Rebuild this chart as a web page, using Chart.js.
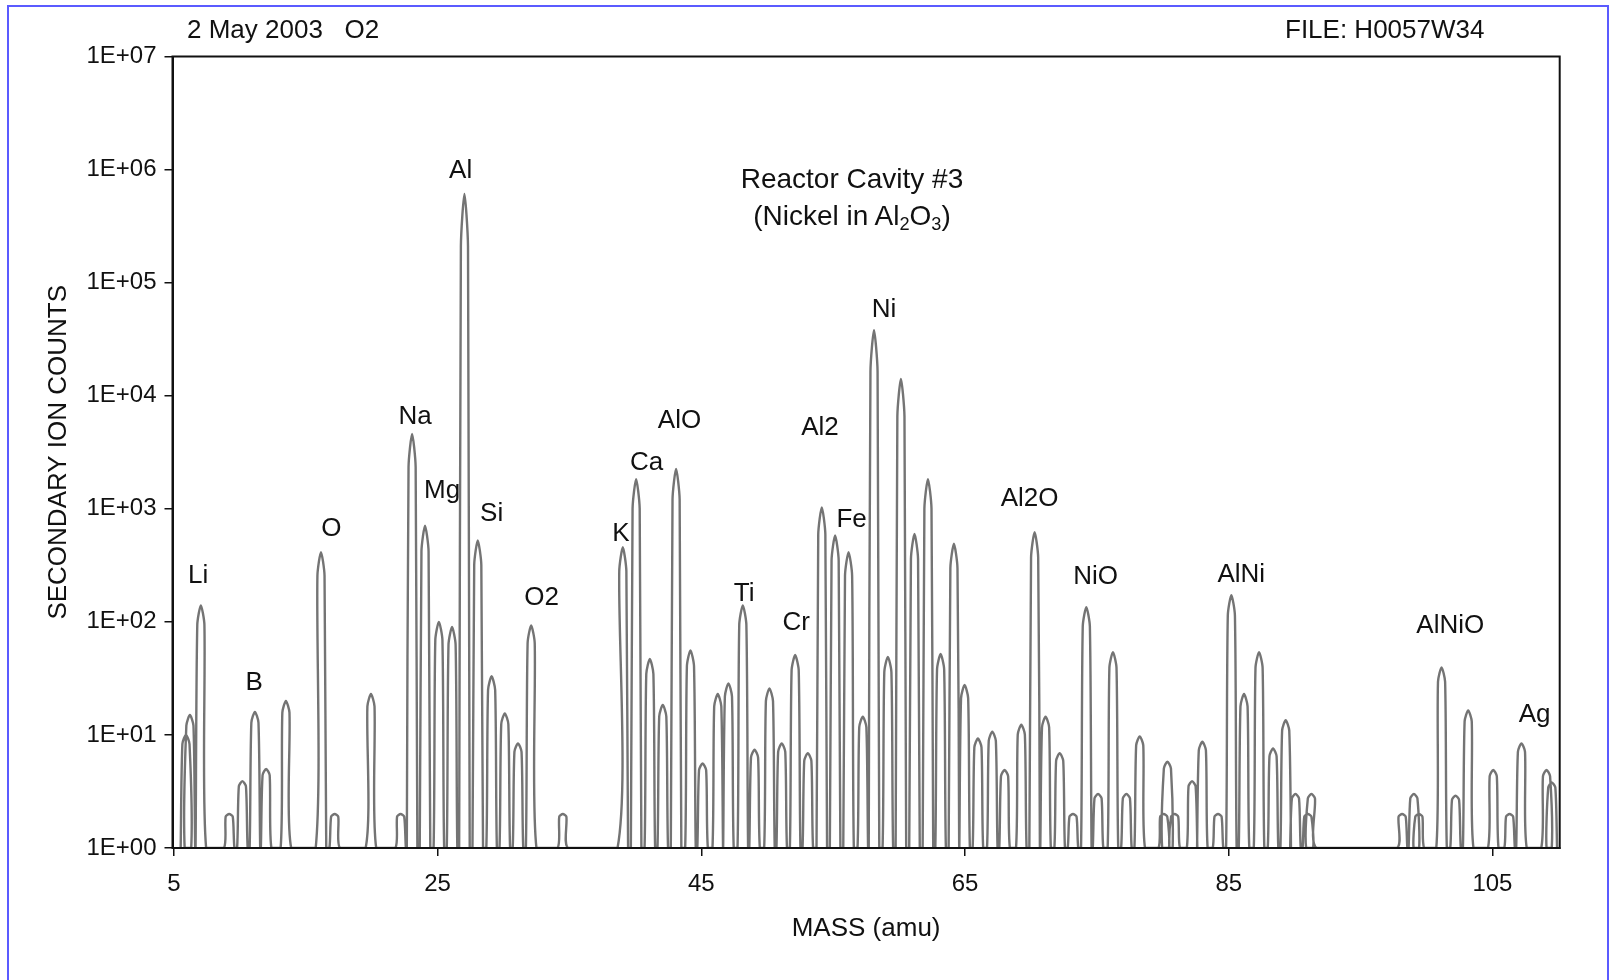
<!DOCTYPE html>
<html>
<head>
<meta charset="utf-8">
<title>Reactor Cavity #3 - secondary ion spectrum</title>
<script src="https://cdn.jsdelivr.net/npm/chart.js@4.4.1/dist/chart.umd.min.js"></script>
<style>
  html, body { margin: 0; padding: 0; background: #fff; }
  #wrap { position: relative; width: 1610px; height: 980px; overflow: hidden;
          font-family: "Liberation Sans", Arial, sans-serif; color: #111; }
  #frame { position: absolute; left: 7px; top: 5px; width: 1598px; height: 1000px;
           border: 2px solid #5b5bff; border-bottom: none; }
  canvas { position: absolute; left: 0; top: 0; }
  .hdr { position: absolute; top: 14px; font-size: 26px; line-height: 30px; white-space: pre; }
  #title { position: absolute; left: 652px; width: 400px; top: 160px; text-align: center;
           font-size: 28px; line-height: 37px; }
  #title sub { font-size: 0.65em; vertical-align: -0.3em; line-height: 0; }
</style>
</head>
<body>
<div id="wrap">
  <canvas id="spectrum" width="1610" height="980"></canvas>
  <div id="frame"></div>
  <div class="hdr" style="left:187px">2 May 2003   O2</div>
  <div class="hdr" style="left:1285px">FILE: H0057W34</div>
  <div id="title">Reactor Cavity #3<br>(Nickel in Al<sub>2</sub>O<sub>3</sub>)</div>
</div>
<script>
	// peak centres (amu) and peak heights (counts)
	var peakMass = [5.92, 6.22, 7.05, 9.2, 10.2, 11.15, 12.0, 13.5, 16.16, 17.2,
		19.95, 22.2, 23.07, 24.05, 25.1, 26.1, 27.04, 28.05, 29.1, 30.1,
		31.1, 32.1, 34.5, 39.05, 40.06, 41.1, 42.08, 43.09, 44.18, 45.1,
		46.25, 47.06, 48.15, 49.04, 50.17, 51.1, 52.12, 53.08, 54.14, 55.15,
		56.17, 57.25, 58.1, 59.15, 60.14, 61.17, 62.19, 63.15, 64.16, 64.97,
		65.98, 67.07, 68.0, 69.27, 70.28, 71.11, 72.18, 73.19, 74.2, 75.09,
		76.22, 77.24, 78.25, 80.07, 80.35, 80.9, 82.22, 83.0, 84.19, 85.2,
		86.16, 87.3, 88.36, 89.32, 90.06, 91.0, 91.27, 98.15, 99.04, 99.42,
		101.14, 102.2, 103.16, 105.06, 106.3, 107.2, 109.1, 109.5];
	var peakCounts = [10, 15, 140, 2, 3.9, 16, 5, 20, 414, 2,
		23, 2, 4600, 710, 100, 90, 610000, 525, 33, 15.5,
		8.4, 93, 2, 457, 1830, 47, 18.4, 2250, 56, 5.6,
		23, 28.6, 140, 7.4, 25.8, 8.4, 51, 6.9, 1030, 580,
		414, 14.5, 38000, 49, 14100, 600, 1830, 52, 490, 27.6,
		9.3, 10.7, 4.9, 12.3, 620, 14.5, 6.9, 2, 135, 3,
		54, 3, 9.7, 2, 5.8, 2, 3.9, 8.7, 2, 172,
		23, 54, 7.6, 13.5, 3, 2, 3, 2, 3, 2,
		39.6, 2.9, 16.5, 4.9, 2, 8.4, 4.9, 3.8];

	// species labels and where they sit (amu, counts)
	var labelNames = ['Li', 'B', 'O', 'Na', 'Mg', 'Al', 'Si', 'O2', 'K', 'Ca', 'AlO',
		'Ti', 'Cr', 'Al2', 'Fe', 'Ni', 'Al2O', 'NiO', 'AlNi', 'AlNiO', 'Ag'];
	var labelMass = [6.85, 11.1, 16.95, 23.3, 25.35, 26.75, 29.1, 32.9, 38.9, 40.85, 43.35,
		48.25, 52.2, 54.0, 56.4, 58.85, 69.9, 74.9, 85.95, 101.8, 108.2];
	var labelCounts = [257, 29, 670, 6500, 1450, 970000, 900, 162, 600, 2550, 6000,
		177, 98, 5150, 795, 57000, 1230, 251, 263, 93, 15];

	var xTicks = [5, 25, 45, 65, 85, 105];
	var yTicks = [1, 10, 100, 1000, 10000, 100000, 1000000, 10000000];
	var yTickLabels = ['1E+00', '1E+01', '1E+02', '1E+03', '1E+04', '1E+05', '1E+06', '1E+07'];

	var FONT = '"Liberation Sans", Arial, sans-serif';

	// every peak is drawn as a narrow rounded profile: foot, shoulder, top, shoulder, foot
	function peakProfile()
	{
		var FOOT = 0.4, SHOULDER = 0.27, SHOULDER_LEVEL = 0.92;
		var pts = [];
		peakMass.forEach(function (m, i) {
			var h = peakCounts[i];
			var s = Math.pow(h, SHOULDER_LEVEL);
			pts.push({x: m - FOOT, y: 1}, {x: m - SHOULDER, y: s}, {x: m, y: h},
				{x: m + SHOULDER, y: s}, {x: m + FOOT, y: 1});
		});
		return pts;
	}

	var frameAndLabels = {
		id: 'frameAndLabels',
		afterDatasetsDraw: function (chart) {
			var ctx = chart.ctx, a = chart.chartArea, x = chart.scales.x, y = chart.scales.y;
			ctx.save();
			ctx.strokeStyle = '#111';
			ctx.lineWidth = 2;
			ctx.strokeRect(a.left, a.top, a.right - a.left, a.bottom - a.top);
			ctx.fillStyle = '#111';
			ctx.font = '26px ' + FONT;
			ctx.textAlign = 'center';
			ctx.textBaseline = 'middle';
			labelNames.forEach(function (t, i) {
				ctx.fillText(t, x.getPixelForValue(labelMass[i]), y.getPixelForValue(labelCounts[i]));
			});
			ctx.restore();
		}
	};

	Chart.defaults.font.family = FONT;
	Chart.defaults.color = '#111';

	new Chart(document.getElementById('spectrum').getContext('2d'), {
		type: 'line',
		data: {
			datasets: [{
				data: peakProfile(),
				borderColor: '#747474',
				borderWidth: 2.4,
				pointRadius: 0,
				tension: 0.25,
				fill: false
			}]
		},
		options: {
			responsive: false,
			animation: false,
			devicePixelRatio: 1,
			layout: { padding: { left: 0, top: 56.5, right: 50.3, bottom: 0 } },
			plugins: { legend: { display: false }, tooltip: { enabled: false } },
			scales: {
				x: {
					type: 'linear',
					min: 4.9,
					max: 110.1,
					afterBuildTicks: function (s) { s.ticks = xTicks.map(function (v) { return {value: v}; }); },
					afterFit: function (s) { s.height = 132; },
					ticks: { font: { size: 24 }, padding: 14, maxRotation: 0 },
					grid: { drawOnChartArea: false, drawTicks: true, tickLength: 8, color: '#111', lineWidth: 1.5 },
					border: { display: true, color: '#111', width: 2 },
					title: { display: true, text: 'MASS (amu)', font: { size: 26 }, padding: { top: 0, bottom: 36 } }
				},
				y: {
					type: 'logarithmic',
					min: 1,
					max: 10000000,
					afterBuildTicks: function (s) { s.ticks = yTicks.map(function (v) { return {value: v}; }); },
					afterFit: function (s) { s.width = 172.5; },
					ticks: {
						font: { size: 24 },
						padding: 8,
						callback: function (v, i) { return yTickLabels[i]; }
					},
					grid: { drawOnChartArea: false, drawTicks: true, tickLength: 8, color: '#111', lineWidth: 1.5 },
					border: { display: true, color: '#111', width: 2 },
					title: { display: true, text: 'SECONDARY ION COUNTS', font: { size: 26 }, padding: { top: 43, bottom: 0 } }
				}
			}
		},
		plugins: [frameAndLabels]
	});
</script>
</body>
</html>
